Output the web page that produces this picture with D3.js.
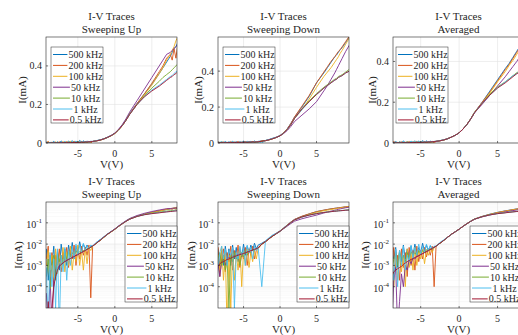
<!DOCTYPE html>
<html>
<head>
<meta charset="utf-8">
<script src="https://cdn.jsdelivr.net/npm/d3@7"></script>
<style>
  body { margin: 0; background: #fff; }
  svg { display: block; }
  text { font-family: "Liberation Serif", "Times New Roman", serif; fill: #262626; }
</style>
</head>
<body>
<svg id="chart" width="518" height="335"></svg>
<script>
// voltage sweep points (V)
const V = [-9.25,-9,-8.75,-8.5,-8.25,-8,-7.75,-7.5,-7.25,-7,-6.75,-6.5,-6.25,-6,-5.75,-5.5,-5.25,-5,-4.75,-4.5,-4.25,-4,-3.75,-3.5,-3.25,-3,
  -2.5,-2,-1.5,-1,-0.5,0,0.5,1,1.5,2,
  3,4,5,6,6.5,7,7.5,7.75,8,8.25,8.5,9,9.5];

const freqLabels = ["500 kHz", "200 kHz", "100 kHz", "50 kHz", "10 kHz", "1 kHz", "0.5 kHz"];
const colors = ["#0072BD", "#D95319", "#EDB120", "#7E2F8E", "#77AC30", "#4DBEEE", "#A2142F"];
const xTicks = [-5, 0, 5];
const linTicks = [0, 0.2, 0.4];
const logTicks = [-1, -2, -3, -4];

// current (mA), one row per frequency
const sweepUp = [
  [6e-3,2e-4,3e-3,1e-3,8e-3,3e-4,5e-3,6e-4,1e-2,2e-3,6e-3,1e-3,9e-3,3e-3,1.2e-2,2e-3,8e-3,4e-3,1.3e-2,5e-3,1e-2,6e-3,9e-3,6e-3,8e-3,8e-3,
   0.012,0.016,0.022,0.03,0.039,0.051,0.069,0.092,0.12,0.152, 0.205,0.255,0.305,0.36,0.39,0.42,0.45,0.47,0.49,0.50,0.52,0.55,0.58],
  [2e-3,8e-3,3e-4,4e-3,1e-4,3e-3,1e-3,6e-3,5e-4,4e-3,1.5e-3,7e-3,8e-4,5e-3,2e-3,9e-3,1e-3,6e-3,2e-3,8e-3,3e-3,7e-3,3e-3,9e-3,3e-5,8e-3,
   0.011,0.015,0.021,0.029,0.038,0.05,0.068,0.09,0.118,0.15, 0.205,0.255,0.31,0.37,0.40,0.44,0.46,0.43,0.49,0.44,0.51,0.54,0.57],
  [1e-3,5e-3,6e-4,3e-3,2e-4,6e-3,4e-4,2e-3,8e-4,7e-3,5e-4,4e-3,1e-3,8e-3,6e-4,4e-3,1.5e-3,9e-3,1e-3,5e-3,6e-4,6e-3,1.2e-3,7e-3,5e-3,8e-3,
   0.011,0.015,0.02,0.028,0.037,0.049,0.067,0.089,0.117,0.149, 0.20,0.25,0.30,0.36,0.39,0.43,0.46,0.48,0.50,0.53,0.55,0.58,0.60],
  [5e-5,1e-6,3e-4,1e-6,2e-4,6e-4,8e-4,1e-3,1.2e-3,1.3e-3,1.6e-3,1.8e-3,2e-3,2.2e-3,2.4e-3,2.7e-3,3e-3,3.3e-3,3.7e-3,4.1e-3,4.6e-3,5.1e-3,5.7e-3,6.4e-3,7.2e-3,8.1e-3,
   0.011,0.015,0.021,0.029,0.039,0.052,0.071,0.095,0.125,0.16, 0.22,0.28,0.34,0.40,0.43,0.46,0.47,0.48,0.49,0.50,0.51,0.53,0.55],
  [3e-4,2e-3,8e-5,1e-3,3e-3,2e-4,4e-3,1.5e-3,3e-3,1e-3,4e-3,2e-3,5e-3,2.5e-3,4e-3,3e-3,5e-3,3.5e-3,4.5e-3,4e-3,5e-3,5e-3,6e-3,6.5e-3,7e-3,8e-3,
   0.011,0.015,0.021,0.029,0.038,0.05,0.068,0.09,0.118,0.15, 0.20,0.245,0.285,0.32,0.34,0.355,0.37,0.38,0.39,0.40,0.41,0.43,0.45],
  [8e-4,1e-6,4e-3,1e-4,2e-3,1e-5,6e-3,1e-6,3e-3,5e-4,7e-3,2e-4,5e-3,1e-3,8e-3,2e-3,1e-2,3e-3,9e-3,4e-3,1.1e-2,5e-3,8e-3,6e-3,9e-3,8e-3,
   0.012,0.016,0.021,0.029,0.038,0.05,0.068,0.09,0.117,0.148, 0.20,0.24,0.275,0.30,0.315,0.33,0.345,0.35,0.36,0.37,0.375,0.39,0.40],
  [1e-6,2e-5,1e-6,1e-5,1e-4,3e-4,6e-4,9e-4,1.1e-3,1.3e-3,1.5e-3,1.7e-3,1.9e-3,2.1e-3,2.35e-3,2.6e-3,2.9e-3,3.2e-3,3.6e-3,4e-3,4.5e-3,5e-3,5.6e-3,6.3e-3,7.1e-3,8e-3,
   0.011,0.015,0.021,0.029,0.038,0.05,0.068,0.09,0.117,0.148, 0.20,0.24,0.27,0.295,0.31,0.325,0.34,0.345,0.355,0.36,0.37,0.38,0.39]
];

const sweepDown = [
  [4e-3,1e-3,5e-3,6e-3,8e-4,5e-3,1e-3,8e-3,2e-3,6e-3,1e-3,9e-3,2e-3,7e-3,1.5e-3,6e-3,2.5e-3,1e-2,3e-3,8e-3,4e-3,9e-3,5e-3,1.1e-2,6e-3,9e-3,
   0.011,0.014,0.019,0.026,0.033,0.042,0.058,0.08,0.11,0.145, 0.20,0.26,0.335,0.39,0.42,0.45,0.48,0.49,0.505,0.52,0.53,0.56,0.59],
  [3e-3,6e-3,1e-3,7e-3,3e-4,2e-3,6e-3,5e-4,4e-3,1.5e-3,8e-3,6e-4,5e-3,2e-3,9e-3,8e-4,4e-3,2e-3,7e-3,1e-3,6e-3,3e-3,8e-3,2e-3,5e-3,7e-3,
   0.01,0.013,0.018,0.025,0.032,0.041,0.057,0.079,0.11,0.146, 0.205,0.265,0.335,0.395,0.425,0.455,0.48,0.495,0.51,0.52,0.535,0.565,0.595],
  [2e-3,5e-3,8e-4,3e-3,6e-4,8e-3,2e-4,4e-3,1e-6,3e-3,1e-5,5e-3,2e-4,4e-3,6e-4,7e-3,1e-4,5e-3,1e-3,6e-3,8e-4,4e-3,1.5e-3,5e-3,2e-3,6e-3,
   0.01,0.013,0.018,0.024,0.031,0.04,0.055,0.075,0.103,0.137, 0.185,0.245,0.31,0.37,0.395,0.42,0.45,0.465,0.48,0.50,0.515,0.55,0.585],
  [1e-4,1e-3,2e-4,1.2e-3,3e-4,1.5e-3,2e-3,1e-3,2.2e-3,2.4e-3,2e-3,2.8e-3,2.9e-3,3e-3,3.2e-3,3.4e-3,3.6e-3,3.8e-3,4e-3,4.3e-3,4.6e-3,5e-3,5.3e-3,5.7e-3,6e-3,6.5e-3,
   0.01,0.013,0.018,0.024,0.031,0.04,0.053,0.07,0.093,0.12, 0.155,0.19,0.23,0.29,0.32,0.355,0.39,0.41,0.43,0.45,0.47,0.51,0.545],
  [1.5e-3,3e-3,8e-4,2e-3,4e-3,1e-3,3e-3,6e-4,2e-3,1e-5,3e-3,1.5e-3,4e-3,2e-3,3e-3,1e-3,4e-3,2.5e-3,4.5e-3,3e-3,5e-3,4e-3,5.5e-3,5e-3,6e-3,6.5e-3,
   0.01,0.013,0.018,0.024,0.031,0.04,0.055,0.076,0.104,0.138, 0.19,0.235,0.275,0.31,0.325,0.34,0.355,0.36,0.37,0.375,0.38,0.395,0.41],
  [6e-3,2e-3,7e-3,1e-3,4e-3,8e-3,2e-3,6e-3,1e-3,5e-3,3e-3,7e-3,1e-5,4e-3,2e-3,8e-3,3e-3,6e-3,1e-3,9e-3,4e-3,7e-3,2e-3,8e-3,5e-3,7e-3,
   1e-4,0.014,0.02,0.027,0.031,0.04,0.055,0.075,0.104,0.138, 0.185,0.23,0.27,0.305,0.32,0.335,0.35,0.355,0.365,0.37,0.375,0.39,0.40],
  [5e-4,8e-4,1e-3,9e-4,1.2e-3,1.4e-3,1.5e-3,1.7e-3,1.9e-3,2e-3,2.2e-3,2.4e-3,2.6e-3,2.8e-3,3e-3,3.2e-3,3.4e-3,3.6e-3,3.9e-3,4.2e-3,4.5e-3,4.9e-3,5.3e-3,5.7e-3,6.1e-3,6.6e-3,
   0.01,0.013,0.018,0.024,0.031,0.04,0.055,0.076,0.104,0.138, 0.19,0.23,0.27,0.305,0.32,0.335,0.35,0.355,0.365,0.37,0.375,0.39,0.40]
];

const averaged = [
  [5e-3,1e-3,6e-3,2e-3,7e-3,8e-4,5e-3,1.5e-3,9e-3,2e-3,6e-3,2.5e-3,8e-3,3e-3,1e-2,3e-3,7e-3,4e-3,1.1e-2,4.5e-3,9e-3,5e-3,8e-3,6e-3,7.5e-3,8e-3,
   0.011,0.015,0.021,0.029,0.038,0.05,0.068,0.09,0.118,0.15, 0.20,0.255,0.31,0.365,0.39,0.42,0.45,0.465,0.48,0.49,0.50,0.53,0.56],
  [1e-3,5e-3,4e-4,7e-3,6e-4,3e-3,2e-4,6e-3,8e-4,4e-3,3e-4,7e-3,1e-3,5e-3,6e-4,8e-3,1.5e-3,5e-3,2e-3,7e-3,2.5e-3,6e-3,3e-3,8e-3,1e-4,8e-3,
   0.011,0.015,0.021,0.029,0.038,0.05,0.068,0.09,0.118,0.15, 0.20,0.25,0.305,0.36,0.385,0.415,0.445,0.46,0.475,0.485,0.495,0.52,0.55],
  [2e-3,4e-4,3e-3,1e-4,4e-3,2e-4,5e-3,5e-4,3e-3,1e-4,6e-3,8e-4,4e-3,6e-4,7e-3,1e-3,5e-3,2e-3,6e-3,1.2e-3,5e-3,3e-3,6e-3,4e-3,7e-3,8e-3,
   0.011,0.015,0.021,0.029,0.038,0.05,0.068,0.09,0.117,0.149, 0.195,0.245,0.30,0.35,0.38,0.405,0.435,0.45,0.465,0.475,0.49,0.515,0.54],
  [1e-6,5e-4,1e-6,2e-4,8e-4,1e-6,2e-5,4e-4,1e-4,1e-3,6e-4,1.8e-3,1.2e-3,2.2e-3,2e-3,2.7e-3,2.8e-3,3.3e-3,3.5e-3,4e-3,4.4e-3,5e-3,5.6e-3,6.3e-3,7e-3,8e-3,
   0.011,0.015,0.021,0.029,0.038,0.05,0.068,0.09,0.117,0.148, 0.19,0.235,0.28,0.325,0.35,0.375,0.40,0.415,0.43,0.44,0.45,0.48,0.50],
  [1e-3,3e-3,5e-4,2e-3,3e-3,1e-3,4e-3,2e-3,3e-3,1.5e-3,4e-3,2e-3,4.5e-3,3e-3,4e-3,3e-3,5e-3,3.5e-3,5e-3,4e-3,5.5e-3,5e-3,6e-3,6e-3,7e-3,8e-3,
   0.011,0.015,0.021,0.029,0.038,0.05,0.068,0.09,0.118,0.15, 0.195,0.24,0.275,0.30,0.315,0.33,0.345,0.35,0.36,0.365,0.37,0.385,0.40],
  [7e-3,8e-4,4e-3,2e-4,6e-3,1e-4,5e-3,1e-3,8e-3,6e-4,3e-3,1.5e-3,9e-3,2e-3,7e-3,3e-3,1e-2,3.5e-3,8e-3,4e-3,1e-2,5e-3,9e-3,6e-3,8e-3,8e-3,
   0.012,0.016,0.021,0.029,0.038,0.05,0.068,0.09,0.117,0.148, 0.195,0.235,0.27,0.30,0.315,0.33,0.34,0.35,0.355,0.36,0.37,0.38,0.39],
  [1e-4,2e-4,3e-4,5e-4,6e-4,7e-4,8e-4,9e-4,1.1e-3,1.3e-3,1.5e-3,1.7e-3,1.9e-3,2.1e-3,2.35e-3,2.6e-3,2.9e-3,3.2e-3,3.6e-3,4e-3,4.5e-3,5e-3,5.6e-3,6.3e-3,7.1e-3,8e-3,
   0.011,0.015,0.021,0.029,0.038,0.05,0.068,0.09,0.117,0.148, 0.195,0.235,0.27,0.295,0.31,0.325,0.34,0.345,0.35,0.36,0.365,0.38,0.39]
];

const columns = [
  { data: sweepUp,   sub: "Sweeping Up",   left: 46,  right: 177, xDom: [-9.3, 8.4],  yMax: 0.55, legX: 51,  legLogX: 125, labX: 22,  labLogX: 18 },
  { data: sweepDown, sub: "Sweeping Down", left: 218, right: 349, xDom: [-8.5, 9.45], yMax: 0.59, legX: 223, legLogX: 297, labX: 198, labLogX: 191 },
  { data: averaged,  sub: "Averaged",      left: 393, right: 524, xDom: [-8.6, 8.44], yMax: 0.52, legX: 396, legLogX: 470, labX: 372, labLogX: 365 }
];
const rows = [
  { top: 37,  bottom: 143, log: false, legY: 47 },
  { top: 202, bottom: 308, log: true,  legY: 226 }
];

const svg = d3.select("#chart");
const axisColor = "#262626";
let clipId = 0;

columns.forEach(col => {
  rows.forEach(row => {
    const x = d3.scaleLinear().domain(col.xDom).range([col.left, col.right]);
    const y = row.log
      ? d3.scaleLog().domain([1e-5, 0.95]).range([row.bottom, row.top])
      : d3.scaleLinear().domain([0, col.yMax]).range([row.bottom, row.top]);
    const g = svg.append("g");
    const w = col.right - col.left, h = row.bottom - row.top;

    g.append("rect").attr("x", col.left).attr("y", row.top).attr("width", w).attr("height", h).attr("fill", "#fff");

    // grid
    if (row.log) {
      const minor = [];
      for (let e = -5; e < 0; e++) for (let m = 2; m < 10; m++) minor.push(m * Math.pow(10, e));
      g.selectAll(null).data(minor.filter(v => v < 0.95)).enter().append("line")
        .attr("x1", col.left).attr("x2", col.right)
        .attr("y1", d => y(d)).attr("y2", d => y(d))
        .attr("stroke", "#f2f2f2").attr("stroke-width", 0.5);
    }
    const yGrid = row.log ? logTicks.map(e => Math.pow(10, e)) : linTicks;
    g.selectAll(null).data(yGrid).enter().append("line")
      .attr("x1", col.left).attr("x2", col.right)
      .attr("y1", d => y(d)).attr("y2", d => y(d))
      .attr("stroke", "#e3e3e3").attr("stroke-width", 0.6);
    g.selectAll(null).data(xTicks).enter().append("line")
      .attr("y1", row.top).attr("y2", row.bottom)
      .attr("x1", d => x(d)).attr("x2", d => x(d))
      .attr("stroke", "#e3e3e3").attr("stroke-width", 0.6);

    // traces
    const cid = "clip" + (clipId++);
    g.append("clipPath").attr("id", cid).append("rect")
      .attr("x", col.left).attr("y", row.top).attr("width", w).attr("height", h);
    const line = d3.line().x((d, i) => x(V[i])).y(d => y(d));
    g.append("g").attr("clip-path", `url(#${cid})`)
      .selectAll("path").data(col.data).enter().append("path")
      .attr("d", line).attr("fill", "none")
      .attr("stroke", (d, i) => colors[i]).attr("stroke-width", 0.9);

    // box and ticks
    g.append("rect").attr("x", col.left).attr("y", row.top).attr("width", w).attr("height", h)
      .attr("fill", "none").attr("stroke", axisColor).attr("stroke-width", 0.6);
    xTicks.forEach(t => {
      g.append("line").attr("x1", x(t)).attr("x2", x(t)).attr("y1", row.bottom).attr("y2", row.bottom - 2)
        .attr("stroke", axisColor).attr("stroke-width", 0.6);
      g.append("text").attr("x", x(t)).attr("y", row.bottom + 14).attr("text-anchor", "middle")
        .attr("font-size", 10).text(t < 0 ? "-" + Math.abs(t) : t);
    });
    if (row.log) {
      logTicks.forEach(e => {
        const yy = y(Math.pow(10, e));
        g.append("line").attr("x1", col.left).attr("x2", col.left + 2).attr("y1", yy).attr("y2", yy)
          .attr("stroke", axisColor).attr("stroke-width", 0.6);
        const t = g.append("text").attr("x", col.left - 4).attr("y", yy + 5).attr("text-anchor", "end").attr("font-size", 10);
        t.append("tspan").text("10");
        t.append("tspan").attr("dy", -5).attr("font-size", 7).text("-" + Math.abs(e));
      });
    } else {
      linTicks.forEach(v => {
        g.append("line").attr("x1", col.left).attr("x2", col.left + 2).attr("y1", y(v)).attr("y2", y(v))
          .attr("stroke", axisColor).attr("stroke-width", 0.6);
        g.append("text").attr("x", col.left - 4).attr("y", y(v) + 3.5).attr("text-anchor", "end")
          .attr("font-size", 10).text(v);
      });
    }

    // labels and titles
    const cx = (col.left + col.right) / 2;
    g.append("text").attr("x", cx).attr("y", row.top - 17).attr("text-anchor", "middle").attr("font-size", 11).text("I-V Traces");
    g.append("text").attr("x", cx).attr("y", row.top - 4).attr("text-anchor", "middle").attr("font-size", 11).text(col.sub);
    g.append("text").attr("x", cx).attr("y", row.bottom + 25).attr("text-anchor", "middle").attr("font-size", 11).text("V(V)");
    const lx = row.log ? col.labLogX : col.labX;
    g.append("text").attr("transform", `translate(${lx},${(row.top + row.bottom) / 2}) rotate(-90)`)
      .attr("dy", "0.35em").attr("text-anchor", "middle").attr("font-size", 11).text("I(mA)");

    // legend
    const legX = row.log ? col.legLogX : col.legX;
    const lg = g.append("g");
    lg.append("rect").attr("x", legX).attr("y", row.legY).attr("width", 52).attr("height", 76)
      .attr("fill", "#fff").attr("stroke", axisColor).attr("stroke-width", 0.5);
    freqLabels.forEach((lab, i) => {
      const yy = row.legY + 7.5 + i * 10.9;
      const t = lg.append("text").attr("x", legX + 34.5).attr("y", yy + 3.5)
        .attr("text-anchor", "middle").attr("font-size", 10).text(lab);
      const start = legX + 34.5 - t.node().getComputedTextLength() / 2;
      lg.append("line").attr("x1", legX + 2).attr("x2", start - 1).attr("y1", yy).attr("y2", yy)
        .attr("stroke", colors[i]).attr("stroke-width", 1);
    });
  });
});
</script>
</body>
</html>
